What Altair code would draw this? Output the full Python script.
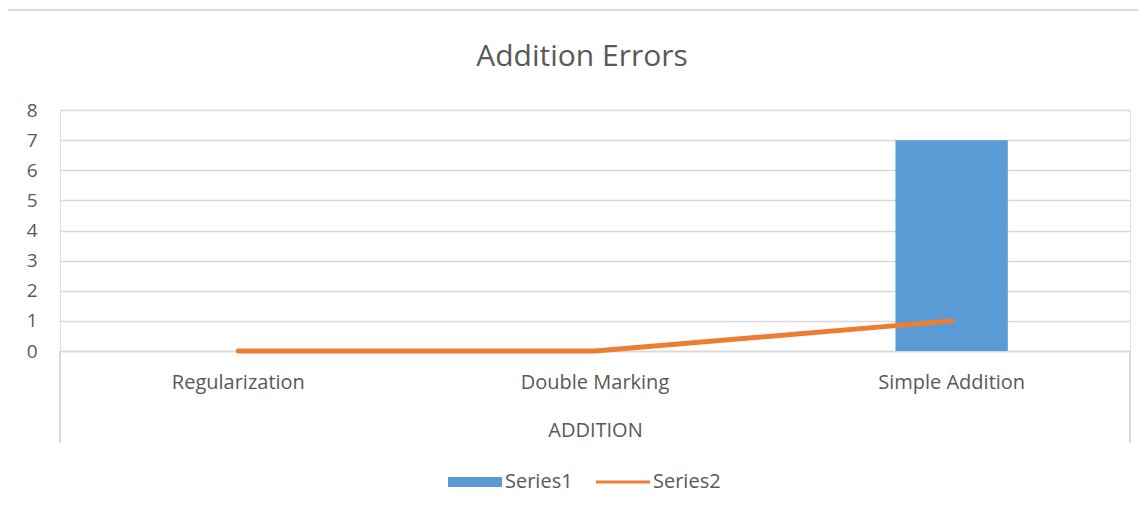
import altair as alt
import pandas as pd

categories = ["Regularization", "Double Marking", "Simple Addition"]
series1 = [0, 0, 7]
series2 = [0, 0, 1]
series_names = ["Series1", "Series2"]
series_colors = ["#5B9BD5", "#ED7D31"]
y_ticks = [0, 1, 2, 3, 4, 5, 6, 7, 8]
title_text = "Addition Errors"
x_title = "ADDITION"

FONT = "Open Sans"
TXT = "#595959"
GRID = "#D9D9D9"

long = pd.DataFrame({
    "category": categories * 2,
    "series": [series_names[0]] * 3 + [series_names[1]] * 3,
    "value": series1 + series2,
})

W, H = 1070, 241

xscale = alt.Scale(domain=categories, paddingInner=0, paddingOuter=0)
xaxis = alt.Axis(labelAngle=0, ticks=False, domain=True,
                 domainColor=GRID, domainWidth=1.5,
                 labelFont=FONT, labelFontSize=20, labelColor=TXT, labelPadding=21,
                 titleFont=FONT, titleFontSize=20, titleColor=TXT, titleFontWeight="normal",
                 titlePadding=28)
yscale = alt.Scale(domain=[0, 8], nice=False)
yaxis = alt.Axis(values=y_ticks, ticks=False, domain=False, labelOverlap=False,
                 grid=True, gridColor=GRID, gridWidth=1.5,
                 labelFont=FONT, labelFontSize=19, labelColor=TXT, labelPadding=23)

X = alt.X("category:N", sort=categories, scale=xscale, axis=xaxis, title=x_title)
Y = alt.Y("value:Q", scale=yscale, axis=yaxis, title=None)

base = alt.Chart(long)

bars = base.mark_bar(color=series_colors[0], width=alt.RelativeBandSize(0.315)).encode(
    x=X, y=Y).transform_filter(alt.datum.series == series_names[0])

line = base.mark_line(color=series_colors[1], strokeWidth=5, strokeCap="round",
                      strokeJoin="round").encode(
    x=X, y=Y).transform_filter(alt.datum.series == series_names[1])

leg = alt.Legend(title=None, orient="none", direction="horizontal",
                 legendX=388, legendY=345,
                 symbolSize=2916, symbolOpacity=1, symbolStrokeWidth=0,
                 labelFont=FONT, labelFontSize=20, labelColor=TXT,
                 labelOffset=3, columnPadding=23)

legend_pts = base.mark_point(filled=True, opacity=0).encode(
    x=X, y=Y,
    color=alt.Color("series:N", scale=alt.Scale(domain=series_names, range=series_colors), legend=leg),
    shape=alt.Shape("series:N", scale=alt.Scale(domain=series_names,
                                                range=["M-1,-0.185H1V0.185H-1Z",
                                                       "M-1,-0.055H1V0.055H-1Z"]),
                    legend=leg),
)

frame = base.mark_rect(fill="white", fillOpacity=0, stroke=GRID, strokeWidth=1.5).encode(
    x=alt.value(-53), x2=alt.value(W + 100), y=alt.value(-100), y2=alt.value(H + 200)
)

title = alt.Chart(pd.DataFrame({"t": [title_text]})).mark_text(
    font=FONT, fontSize=30, color=TXT, align="center", baseline="middle").encode(
    text="t:N", x=alt.value(W / 2 - 13), y=alt.value(-53)
)

sep_left = base.mark_rule(color=GRID, strokeWidth=1.5).encode(
    x=alt.value(0), y=alt.value(H), y2=alt.value(H + 92))
sep_right = base.mark_rule(color=GRID, strokeWidth=1.5).encode(
    x=alt.value(W), y=alt.value(H), y2=alt.value(H + 92))

chart = alt.layer(frame, bars, line, legend_pts, sep_left, sep_right, title).properties(
    width=W, height=H,
    autosize=alt.AutoSizeParams(type="none"),
    padding={"left": 52, "top": 102, "right": 8, "bottom": 150},
).configure_view(strokeWidth=0, stroke="transparent").configure(background="white")

chart.save("out.html", embed_options={"renderer": "svg", "actions": False})
